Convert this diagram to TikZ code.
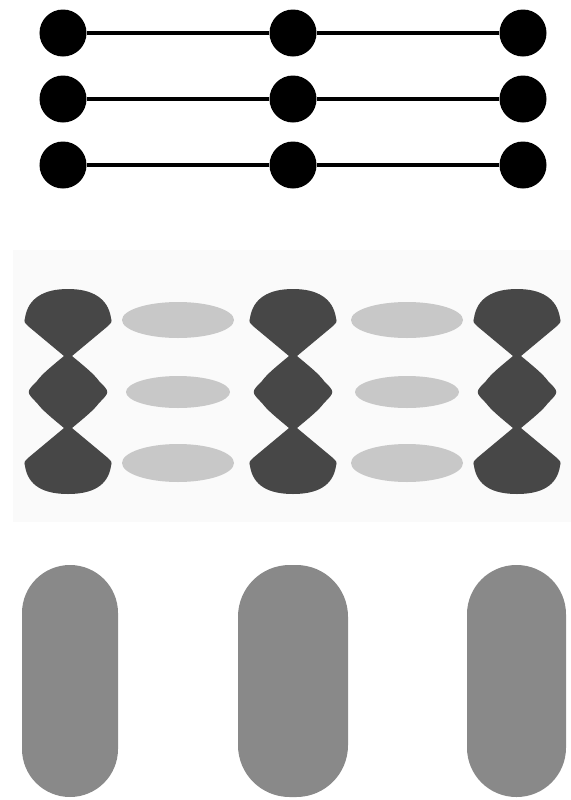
\documentclass[tikz,border=0pt]{standalone}
\usepackage{xcolor}
\usepackage{tikz}
\usetikzlibrary{positioning}

\definecolor{lobegray}{HTML}{474747}
\definecolor{dropgray}{HTML}{C8C8C8}
\definecolor{rodgray}{HTML}{898989}
\definecolor{bggray}{HTML}{FAFAFA}

\begin{document}
\begin{tikzpicture}[x=0.03cm, y=-0.03cm, node distance=6.9cm, on grid,
    dot/.style={draw=none, circle, fill=black, minimum size=1.41cm, inner sep=0pt},
    bar/.style={line width=3.5pt, black}]
    \useasboundingbox (0,0) rectangle (571,800);

    % three chains of beads
    \node (a1) [dot] at (63,33) {};
    \node (a2) [dot, right=of a1] {};
    \node (a3) [dot, right=of a2] {};

    \node (b1) [dot, below=1.98cm of a1] {};
    \node (b2) [dot, right=of b1] {};
    \node (b3) [dot, right=of b2] {};

    \node (c1) [dot, below=1.98cm of b1] {};
    \node (c2) [dot, right=of c1] {};
    \node (c3) [dot, right=of c2] {};

    \draw[bar] (a1) -- (a2);
    \draw[bar] (a2) -- (a3);
    \draw[bar] (b1) -- (b2);
    \draw[bar] (b2) -- (b3);
    \draw[bar] (c1) -- (c2);
    \draw[bar] (c2) -- (c3);

    % middle panel
    \fill[bggray] (13,250) rectangle (571,522);

    \foreach \cx in {68,293,517} {
        \fill[lobegray] ({\cx-43},318) .. controls ({\cx-40},298) and ({\cx-24},289) .. (\cx,289)
            .. controls ({\cx+24},289) and ({\cx+40},298) .. ({\cx+43},318)
            .. controls ({\cx+44},322) .. ({\cx+40},326)
            -- ({\cx+4},356)
            .. controls ({\cx+16},366) and ({\cx+26},374) .. ({\cx+31},381)
            .. controls ({\cx+42},392) .. ({\cx+31},403)
            .. controls ({\cx+26},410) and ({\cx+16},418) .. ({\cx+4},428)
            -- ({\cx+40},458) .. controls ({\cx+44},462) .. ({\cx+43},466)
            .. controls ({\cx+40},486) and ({\cx+24},494) .. (\cx,494)
            .. controls ({\cx-24},494) and ({\cx-40},486) .. ({\cx-43},466)
            .. controls ({\cx-44},462) .. ({\cx-40},458)
            -- ({\cx-4},428)
            .. controls ({\cx-16},418) and ({\cx-26},410) .. ({\cx-31},403)
            .. controls ({\cx-42},392) .. ({\cx-31},381)
            .. controls ({\cx-26},374) and ({\cx-16},366) .. ({\cx-4},356)
            -- ({\cx-40},326) .. controls ({\cx-44},322) .. cycle;
    }

    \foreach \ex in {178,407} {
        \fill[dropgray] (\ex,320) ellipse [x radius=56, y radius=18];
        \fill[dropgray] (\ex,392) ellipse [x radius=52, y radius=16];
        \fill[dropgray] (\ex,463) ellipse [x radius=56, y radius=19];
    }

    % bottom rods
    \fill[rodgray, rounded corners=1.44cm] (22,565) rectangle (118,797);
    \fill[rodgray, rounded corners=1.55cm] (238,565) rectangle (348,797);
    \fill[rodgray, rounded corners=1.48cm] (467,565) rectangle (566,797);
\end{tikzpicture}
\end{document}
